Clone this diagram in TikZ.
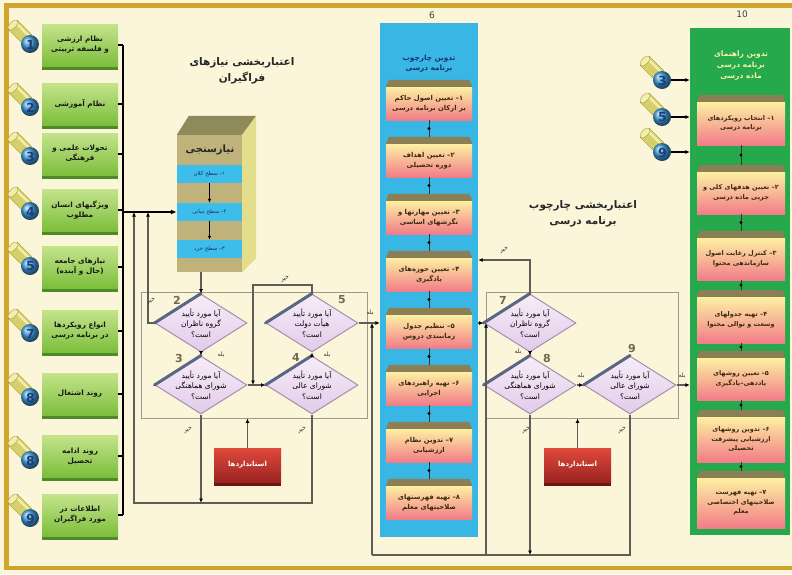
\documentclass[tikz,border=0pt]{standalone}
\usepackage{fontspec}
\setsansfont{DejaVu Sans}
\newfontfamily\fa[Script=Arabic]{DejaVu Sans}
\TeXXeTstate=1
\usetikzlibrary{shapes.geometric,arrows.meta,shadows,calc}
\newcommand\fl[1]{\beginR#1\endR}
\definecolor{bg}{HTML}{FBF6DA}
\definecolor{gold}{HTML}{CFA52C}
\definecolor{lgTop}{HTML}{C4E48C}
\definecolor{lgBot}{HTML}{7DBE3C}
\definecolor{lgShd}{HTML}{4E8A2A}
\definecolor{cylY}{HTML}{D7CF6A}
\definecolor{cylL}{HTML}{F3EEB0}
\definecolor{cylD}{HTML}{A49C3A}
\definecolor{discB}{HTML}{3E9AD8}
\definecolor{numB}{HTML}{1D3D7A}
\definecolor{colsix}{HTML}{38B6E4}
\definecolor{colten}{HTML}{25A94C}
\definecolor{stY}{HTML}{FDF0A2}
\definecolor{stP}{HTML}{F27C88}
\definecolor{olv}{HTML}{8B7F55}
\definecolor{diaFa}{HTML}{F7ECF8}
\definecolor{diaFb}{HTML}{E2CBEA}
\definecolor{diaB}{HTML}{A58EAE}
\definecolor{bev}{HTML}{5B6684}
\definecolor{frmc}{HTML}{9C9A8C}
\definecolor{cn}{HTML}{5E5E58}
\definecolor{stdT}{HTML}{E0493C}
\definecolor{stdB}{HTML}{9A2420}
\definecolor{stdS}{HTML}{6E1512}
\definecolor{nbFront}{HTML}{BFB27A}
\definecolor{nbTop}{HTML}{8F8A5C}
\definecolor{nbSide}{HTML}{E3DE8C}
\definecolor{bandc}{HTML}{3DBDE9}
\definecolor{dnumc}{HTML}{6F6A4E}
\definecolor{navy}{HTML}{1B2F6B}
\definecolor{stText}{HTML}{3B2A12}
\definecolor{paleY}{HTML}{F6F2A8}
\tikzset{
  lbox/.style={rectangle, minimum width=76pt, minimum height=42pt, inner sep=1pt,
    top color=lgTop, bottom color=lgBot,
    drop shadow={shadow xshift=0pt, shadow yshift=-4pt, fill=lgShd, opacity=1},
    font=\fa\bfseries\fontsize{7.3}{10}\selectfont, align=center, text=black!90},
  disc/.style={circle, minimum size=18pt, inner sep=0pt, ball color=discB},
  cnum/.style={font=\sffamily\bfseries\fontsize{12.5}{12.5}\selectfont, text=numB, inner sep=0pt},
  pics/cyl/.style={code={
    \fill[cylY, draw=cylD, line width=0.4pt] (-12.4,-23.6) -- (1.6,-9.6) -- (-7.6,-0.4) -- (-21.6,-14.4) -- cycle;
    \draw[cylL, line width=2.4pt, line cap=round] (-14.5,-21.5) -- (-0.5,-7.5);
    \fill[cylL, draw=cylD, line width=0.4pt, rotate around={-45:(-17,-19)}] (-17,-19) ellipse (3.2 and 6.5);
    \node[disc] (-d) at (0,0) {};
    \node[cnum] (-n) at (0.5,0.5) {#1};
  }},
  brk/.style={draw=black, line width=1.6pt},
  frm/.style={rectangle, draw=frmc, line width=0.9pt, inner sep=0pt},
  nfront/.style={rectangle, fill=nbFront, minimum width=65pt, minimum height=137pt, inner sep=0pt},
  bandn/.style={rectangle, fill=bandc, minimum width=65pt, minimum height=18pt, inner sep=0pt,
    font=\fa\fontsize{5.5}{6}\selectfont, text=navy},
  dia/.style={diamond, minimum width=92pt, minimum height=58pt, inner sep=0pt,
    draw=diaB, line width=1pt, top color=diaFa, bottom color=diaFb},
  dtext/.style={font=\fa\fontsize{7.5}{10.5}\selectfont, align=center, text=black, inner sep=0pt},
  bevel/.style={draw=bev, line width=3pt, line cap=round},
  dn/.style={font=\sffamily\bfseries\fontsize{11}{11}\selectfont, text=dnumc, inner sep=0pt},
  conn/.style={draw=cn, line width=1.1pt, -{Latex[length=4.5pt,width=4pt,color=black]}},
  lnk/.style={draw=cn, line width=1.1pt},
  yes/.style={font=\fa\fontsize{6}{6}\selectfont, text=black!80, inner sep=0pt},
  no/.style={font=\fa\fontsize{6}{6}\selectfont, text=black!80, inner sep=0pt, rotate=25},
  colsixn/.style={rectangle, fill=colsix, minimum width=98pt, minimum height=514pt, inner sep=0pt},
  coltenn/.style={rectangle, fill=colten, minimum width=100pt, minimum height=507pt, inner sep=0pt},
  stp/.style={rectangle, minimum width=86pt, minimum height=33pt, inner sep=1pt,
    top color=stY, bottom color=stP, font=\fa\bfseries\fontsize{6.8}{9.5}\selectfont,
    align=center, text=stText},
  stpt/.style={stp, minimum width=88pt, font=\fa\bfseries\fontsize{6.5}{9.5}\selectfont},
  scn/.style={draw=black!80, line width=0.8pt},
  dotn/.style={circle, fill=black, inner sep=0pt, minimum size=3.2pt},
  ttl/.style={font=\fa\bfseries\fontsize{10.5}{16}\selectfont, align=center, text=black!85},
  std/.style={rectangle, minimum width=67pt, minimum height=34pt, inner sep=1pt,
    top color=stdT, bottom color=stdB,
    drop shadow={shadow xshift=0pt, shadow yshift=-4pt, fill=stdS, opacity=1},
    font=\fa\bfseries\fontsize{7}{8}\selectfont, text=white},
  clabel/.style={font=\sffamily\fontsize{9}{9}\selectfont, text=black!75, inner sep=0pt}
}
\newcommand\olivetop[1]{\fill[olv] (#1.north west) -- ([xshift=3pt,yshift=7pt]#1.north west) -- ([xshift=-3pt,yshift=7pt]#1.north east) -- (#1.north east) -- cycle;}
\begin{document}
\begin{tikzpicture}[x=1pt,y=-1pt]
\useasboundingbox (0,0) rectangle (792,574);
\fill[bg] (0,0) rectangle (792,574);
\fill[gold] (4,3) rectangle (792,7.5);
\fill[gold] (4,3) rectangle (9,570);
\fill[gold] (4,565.5) rectangle (792,570);

% gray frames
\node[frm, minimum width=226pt, minimum height=126pt] (frL) at (254,355) {};
\node[frm, minimum width=192pt, minimum height=126pt] (frR) at (582,355) {};

% left input boxes
\node[lbox] (l1) at (80,45) {\fl{نظام ارزشی}\\\fl{و فلسفه تربیتی}};
\node[lbox] (l2) at (80,104) {\fl{نظام آموزشی}};
\node[lbox] (l3) at (80,154) {\fl{تحولات علمی و}\\\fl{فرهنگی}};
\node[lbox] (l4) at (80,210) {\fl{ویژگیهای انسان}\\\fl{مطلوب}};
\node[lbox] (l5) at (80,267) {\fl{نیازهای جامعه}\\\fl{(حال و آینده)}};
\node[lbox] (l7) at (80,331) {\fl{انواع رویکردها}\\\fl{در برنامه درسی}};
\node[lbox] (l8) at (80,394) {\fl{روند اشتغال}};
\node[lbox] (l8b) at (80,456) {\fl{روند ادامه}\\\fl{تحصیل}};
\node[lbox] (l9) at (80,515) {\fl{اطلاعات در}\\\fl{مورد فراگیران}};

\pic (c1) at (30,44) {cyl=1};
\pic (c2) at (30,107) {cyl=2};
\pic (c3) at (30,156) {cyl=3};
\pic (c4) at (30,211) {cyl=4};
\pic (c5) at (30,266) {cyl=5};
\pic (c7) at (30,333) {cyl=7};
\pic (c8) at (30,397) {cyl=8};
\pic (c8b) at (30,460) {cyl=8};
\pic (c9) at (30,518) {cyl=9};

% bracket
\coordinate (brTop) at (123,45);
\coordinate (brBot) at (123,515);
\draw[brk] (brTop) -- (brBot);
\foreach \n in {l1,l2,l3,l4,l5,l7,l8,l8b,l9}{\draw[brk] (\n.east) -- (\n.east -| brTop);}
\coordinate (inJ) at (123,212);

% needs assessment box
\node[nfront] (needs) at (209.5,203.5) {};
\fill[nbTop] (needs.north west) -- ($(needs.north west)+(12,-19)$) -- ($(needs.north east)+(14,-19)$) -- (needs.north east) -- cycle;
\fill[nbSide] (needs.north east) -- ($(needs.north east)+(14,-19)$) -- ($(needs.south east)+(14,-14)$) -- (needs.south east) -- cycle;
\node[font=\fa\bfseries\fontsize{10}{10}\selectfont, text=black!85] (needsT) at (210,150) {\fl{نیازسنجی}};
\node[bandn] (b1) at (209.5,174) {\fl{۱– سطح کلان}};
\node[bandn] (b2) at (209.5,212) {\fl{۲– سطح میانی}};
\node[bandn] (b3) at (209.5,249) {\fl{۳– سطح خرد}};
\draw[black, line width=1pt, -{Latex[length=4pt,width=3.5pt]}] (b1.south) -- (b2.north);
\draw[black, line width=1pt, -{Latex[length=4pt,width=3.5pt]}] (b2.south) -- (b3.north);
\draw[brk, -{Latex[length=6pt,width=5pt]}] (inJ) -- (b2.west);

% titles
\node[ttl] (tL) at (242,71) {\fl{اعتباربخشی نیازهای}\\\fl{فراگیران}};
\node[ttl] (tM) at (583,214) {\fl{اعتباربخشی چارچوب}\\\fl{برنامه درسی}};

% diamonds
\node[dia] (d2) at (201,323) {};
\node[dia] (d3) at (201,385) {};
\node[dia] (d5) at (312,323) {};
\node[dia] (d4) at (312,385) {};
\node[dia] (d7) at (530,323) {};
\node[dia] (d8) at (530,385) {};
\node[dia] (d9) at (630,385) {};
\foreach \d in {d2,d3,d5,d4,d7,d8,d9}{\draw[bevel] (\d.west) -- (\d.north);}
\node[dtext] (t2) at (d2) {\fl{آیا مورد تأیید}\\\fl{گروه ناظران}\\\fl{است؟}};
\node[dtext] (t3) at (d3) {\fl{آیا مورد تأیید}\\\fl{شورای هماهنگی}\\\fl{است؟}};
\node[dtext] (t5) at (d5) {\fl{آیا مورد تأیید}\\\fl{هیأت دولت}\\\fl{است؟}};
\node[dtext] (t4) at (d4) {\fl{آیا مورد تأیید}\\\fl{شورای عالی}\\\fl{است؟}};
\node[dtext] (t7) at (d7) {\fl{آیا مورد تأیید}\\\fl{گروه ناظران}\\\fl{است؟}};
\node[dtext] (t8) at (d8) {\fl{آیا مورد تأیید}\\\fl{شورای هماهنگی}\\\fl{است؟}};
\node[dtext] (t9) at (d9) {\fl{آیا مورد تأیید}\\\fl{شورای عالی}\\\fl{است؟}};
\node[dn] (dn2) at (177,300) {2};
\node[dn] (dn3) at (179,358) {3};
\node[dn] (dn5) at (342,300) {5};
\node[dn] (dn4) at (296,357) {4};
\node[dn] (dn7) at (503,300) {7};
\node[dn] (dn8) at (547,358) {8};
\node[dn] (dn9) at (632,348) {9};

% standards
\node[std] (std1) at (247.5,465) {\fl{استانداردها}};
\node[std] (std2) at (577.5,465) {\fl{استانداردها}};

% column 6
\node[colsixn] (c6) at (429,280) {};
\node[clabel] (n6) at (432,15) {6};
\node[font=\fa\bfseries\fontsize{7.3}{10}\selectfont, align=center, text=navy] (c6t) at (429,64) {\fl{تدوین چارچوب}\\\fl{برنامه درسی}};
\node[stp] (s1) at (429,103.5) {\fl{۱– تعیین اصول حاکم}\\\fl{بر ارکان برنامه درسی}};
\node[stp] (s2) at (429,160.5) {\fl{۲– تعیین اهداف}\\\fl{دوره تحصیلی}};
\node[stp] (s3) at (429,217.5) {\fl{۳– تعیین مهارتها و}\\\fl{نگرشهای اساسی}};
\node[stp] (s4) at (429,274.5) {\fl{۴– تعیین حوزه‌های}\\\fl{یادگیری}};
\node[stp] (s5) at (429,331.5) {\fl{۵– تنظیم جدول}\\\fl{زمانبندی دروس}};
\node[stp] (s6) at (429,388.5) {\fl{۶– تهیه راهبردهای}\\\fl{اجرایی}};
\node[stp] (s7) at (429,445.5) {\fl{۷– تدوین نظام}\\\fl{ارزشیابی}};
\node[stp] (s8) at (429,502.5) {\fl{۸– تهیه فهرستهای}\\\fl{صلاحیتهای معلم}};
\foreach \s in {s1,s2,s3,s4,s5,s6,s7,s8}{\olivetop{\s}}
\foreach \a/\b in {s1/s2,s2/s3,s3/s4,s4/s5,s5/s6,s6/s7,s7/s8}{\draw[scn] (\a.south) -- node[dotn]{} ([yshift=7pt]\b.north);}

% column 10
\node[coltenn] (c10) at (740,281.5) {};
\node[clabel] (n10) at (742,14) {10};
\node[font=\fa\bfseries\fontsize{7.5}{11}\selectfont, align=center, text=paleY] (c10t) at (741,66) {\fl{تدوین راهنمای}\\\fl{برنامه درسی}\\\fl{ماده درسی}};
\node[stpt, minimum height=43pt] (u1) at (741,123.5) {\fl{۱– انتخاب رویکردهای}\\\fl{برنامه درسی}};
\node[stpt, minimum height=42pt] (u2) at (741,193) {\fl{۲– تعیین هدفهای کلی و}\\\fl{جزیی ماده درسی}};
\node[stpt, minimum height=42pt] (u3) at (741,259) {\fl{۳– کنترل رعایت اصول}\\\fl{سازماندهی محتوا}};
\node[stpt, minimum height=46pt] (u4) at (741,320) {\fl{۴– تهیه جدولهای}\\\fl{وسعت و توالی محتوا}};
\node[stpt, minimum height=42pt] (u5) at (741,379) {\fl{۵– تعیین روشهای}\\\fl{یاددهی–یادگیری}};
\node[stpt, minimum height=45pt] (u6) at (741,439.5) {\fl{۶– تدوین روشهای}\\\fl{ارزشیابی پیشرفت}\\\fl{تحصیلی}};
\node[stpt, minimum height=50pt] (u7) at (741,503) {\fl{۷– تهیه فهرست}\\\fl{صلاحیتهای اختصاصی}\\\fl{معلم}};
\foreach \s in {u1,u2,u3,u4,u5,u6,u7}{\olivetop{\s}}
\foreach \a/\b in {u1/u2,u2/u3,u3/u4,u4/u5,u5/u6,u6/u7}{\draw[scn] (\a.south) -- node[dotn]{} ([yshift=7pt]\b.north);}

\pic (k3) at (662,80) {cyl=3};
\pic (k5) at (662,117) {cyl=5};
\pic (k9) at (662,152) {cyl=9};
\foreach \k in {k3,k5,k9}{\draw[conn, draw=black] (\k-d.east) -- (\k-d.east -| c10.west);}

% left connectors
\coordinate (l2x) at (148,323);
\coordinate (lb) at (134,503);
\coordinate (t5) at (253,285);
\draw[conn] (d2.north |- needs.south) -- (d2.north);
\draw[conn] (d2.south) -- (d3.north);
\draw[conn] (d3.east) -- (d4.west);
\draw[conn] (d4.north) -- (d5.south);
\draw[conn] (d5.east) -- (c6.west |- d5);
\draw[conn] (d2.west) -- (l2x) -- (l2x |- inJ);
\draw[conn] (d5.north) -- (d5.north |- t5) -- (t5) -- (t5 |- d3);
\draw[conn] (d3.south) -- (d3.south |- lb);
\draw[conn] (d4.south) -- (d4.south |- lb) -- (lb) -- (lb |- inJ);
\draw[conn] (std1.north) -- (std1.north |- frL.south);

% right connectors
\coordinate (r7) at (530,260);
\coordinate (rb) at (372,555);
\coordinate (rx) at (486,555);
\draw[conn] (c6.east |- d7) -- (d7.west);
\draw[conn] (d7.north) -- (r7) -- (c6.east |- r7);
\draw[conn] (d7.south) -- (d8.north);
\draw[conn] (d8.east) -- (d9.west);
\draw[conn] (d9.east) -- (c10.west |- d9);
\draw[conn] (d8.south) -- (d8.south |- rb);
\draw[lnk] (d9.south) -- (d9.south |- rb) -- (rb);
\draw[conn] (rb) -- (rb |- d5);
\draw[conn] (rx) -- (rx |- d7);
\draw[conn] (std2.north) -- (std2.north |- frR.south);

% yes / no labels
\node[yes] (y1) at (221,355) {\fl{بله}};
\node[yes] (y2) at (327,355) {\fl{بله}};
\node[yes] (y3) at (370,313) {\fl{بله}};
\node[yes] (y4) at (518,352) {\fl{بله}};
\node[yes] (y5) at (581,376) {\fl{بله}};
\node[yes] (y6) at (682,376) {\fl{بله}};
\node[no] (x1) at (151,301) {\fl{خیر}};
\node[no] (x2) at (285,279) {\fl{خیر}};
\node[no] (x3) at (188,430) {\fl{خیر}};
\node[no] (x4) at (302,430) {\fl{خیر}};
\node[no] (x5) at (504,250) {\fl{خیر}};
\node[no] (x6) at (526,430) {\fl{خیر}};
\node[no] (x7) at (622,430) {\fl{خیر}};
\end{tikzpicture}
\end{document}
